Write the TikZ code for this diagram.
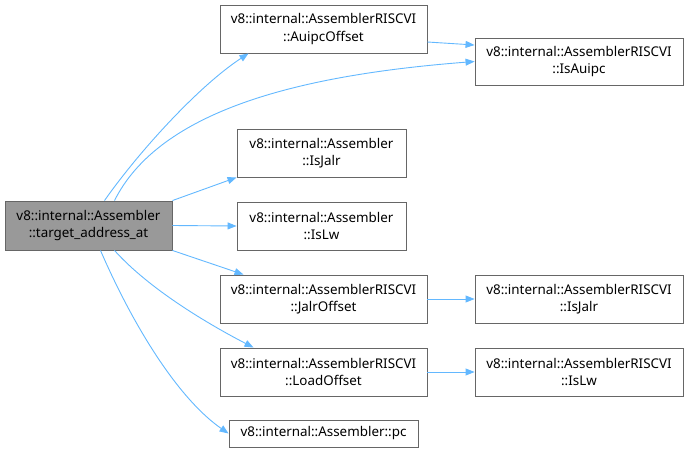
\documentclass[tikz,border=0pt]{standalone}
\usepackage{fontspec}
\setmainfont{Noto Sans}
\usetikzlibrary{arrows.meta}
\definecolor{edgec}{HTML}{63B8FF}
\definecolor{boxc}{HTML}{666666}
\definecolor{mainfill}{HTML}{999999}
\begin{document}
\begin{tikzpicture}[x=1pt,y=-1pt,
  box/.style={draw=boxc,line width=0.9pt,fill=white,inner sep=0pt,font=\fontsize{13.4}{17.5}\selectfont,align=center},
  edge/.style={draw=edgec,line width=0.9pt,-{Triangle[length=9pt,width=7pt]}}]
\useasboundingbox (0,0) rectangle (688,455);
\node[box,fill=mainfill,minimum width=167pt,minimum height=49pt] (main) at (88.5,225.5) {v8::internal::Assembler\\::target\_address\_at};
\node[box,minimum width=207pt,minimum height=48pt] (auo) at (323.5,29) {v8::internal::AssemblerRISCVI\\::AuipcOffset};
\node[box,minimum width=208pt,minimum height=47pt] (isa) at (579,61.5) {v8::internal::AssemblerRISCVI\\::IsAuipc};
\node[box,minimum width=169pt,minimum height=48pt] (ijr) at (321.5,153) {v8::internal::Assembler\\::IsJalr};
\node[box,minimum width=169pt,minimum height=48pt] (ilw) at (321.5,226) {v8::internal::Assembler\\::IsLw};
\node[box,minimum width=207pt,minimum height=48pt] (jo) at (323.5,299) {v8::internal::AssemblerRISCVI\\::JalrOffset};
\node[box,minimum width=207pt,minimum height=48pt] (lo) at (323.5,372) {v8::internal::AssemblerRISCVI\\::LoadOffset};
\node[box,minimum width=189pt,minimum height=27pt] (pc) at (323.5,433.5) {v8::internal::Assembler::pc};
\node[box,minimum width=208pt,minimum height=48pt] (rjr) at (579,299) {v8::internal::AssemblerRISCVI\\::IsJalr};
\node[box,minimum width=208pt,minimum height=48pt] (rlw) at (579,372) {v8::internal::AssemblerRISCVI\\::IsLw};
\draw[edge] ([xshift=16pt]main.north) .. controls (140,150) and (200,85) .. ([xshift=-75pt]auo.south);
\draw[edge] ([xshift=26pt]main.north) .. controls (160,110) and (300,75) .. (isa.west);
\draw[edge] (main.north east) -- (ijr.south west);
\draw[edge] (main.east) -- (ilw.west);
\draw[edge] (main.south east) -- ([xshift=-80pt]jo.north);
\draw[edge] ([xshift=26pt]main.south) .. controls (150,290) and (210,325) .. ([xshift=-70pt]lo.north);
\draw[edge] ([xshift=12pt]main.south) .. controls (135,330) and (180,400) .. (pc.west);
\draw[edge] ([yshift=-13pt]auo.east) -- ([yshift=16.5pt]isa.west);
\draw[edge] (jo.east) -- (rjr.west);
\draw[edge] (lo.east) -- (rlw.west);
\end{tikzpicture}
\end{document}
